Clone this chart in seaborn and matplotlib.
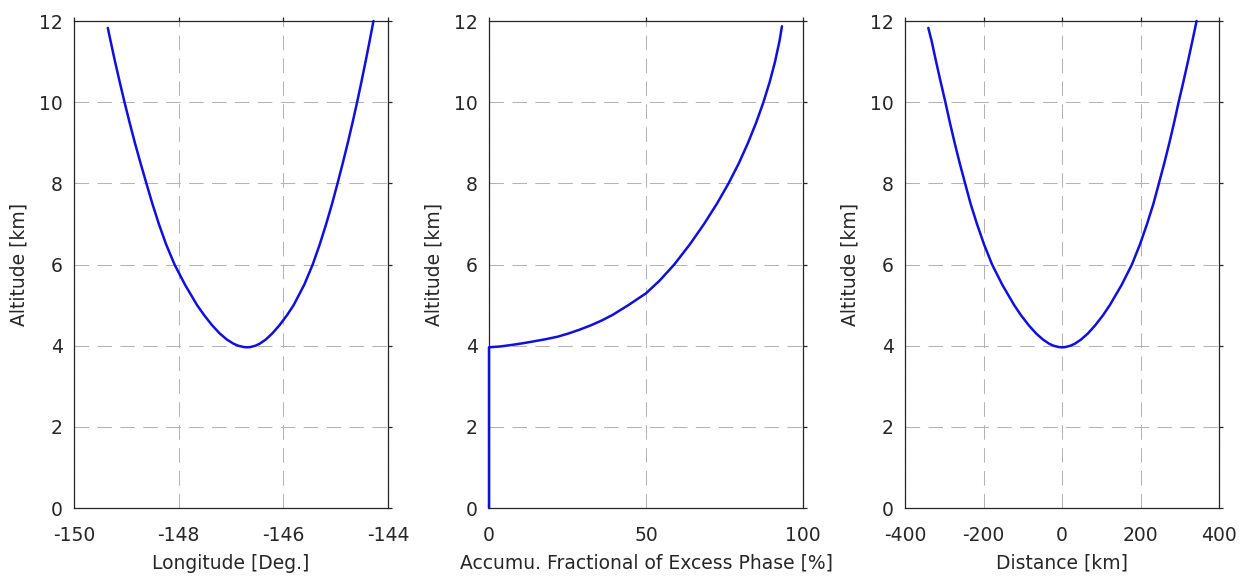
import matplotlib
matplotlib.use("Agg")
import matplotlib.pyplot as plt
import seaborn as sns
import pandas as pd

# Ray path: longitude vs altitude (west branch, tangent point, east branch)
lon_deg = [-149.354, -149.300, -149.216, -149.127, -149.035, -148.938, -148.837,
           -148.729, -148.617, -148.503, -148.379, -148.241, -148.079, -147.878,
           -147.649, -147.512, -147.359, -147.215, -147.078, -146.954, -146.866,
           -146.752, -146.690, -146.633,
           -146.530, -146.450, -146.337, -146.212, -146.076, -145.930, -145.803,
           -145.601, -145.439, -145.303, -145.181, -145.068, -144.964, -144.864,
           -144.768, -144.677, -144.590, -144.508, -144.429, -144.352, -144.278]
alt_lon = [11.83, 11.5, 11.0, 10.5, 10.0, 9.5, 9.0, 8.5, 8.0, 7.5, 7.0, 6.5, 6.0, 5.5,
           5.0, 4.75, 4.5, 4.3, 4.15, 4.05, 4.0,
           3.965, 3.96, 3.965,
           4.0, 4.05, 4.15, 4.3, 4.5, 4.75, 5.0, 5.5, 6.0, 6.5, 7.0, 7.5, 8.0, 8.5,
           9.0, 9.5, 10.0, 10.5, 11.0, 11.5, 12.0]

# Accumulated fraction of excess phase vs altitude
phase_pct = [0, 0, 3.5, 5.5, 7.4, 10.8, 13.8, 18.1, 21.8, 25.3, 28.7, 32.4, 35.9,
             39.4, 44.4, 50.0, 54.3, 59.0, 64.0, 68.5, 72.6, 76.3, 79.6, 82.5, 85.1,
             87.4, 89.4, 91.1, 92.5, 93.3]
alt_phase = [0, 3.96, 3.98, 4.0, 4.02, 4.06, 4.1, 4.16, 4.22, 4.3, 4.39, 4.5, 4.62,
             4.76, 5.0, 5.29, 5.6, 6.0, 6.5, 7.0, 7.5, 8.0, 8.5, 9.0, 9.5, 10.0, 10.5,
             11.0, 11.5, 11.87]

# Ray path: distance from tangent point vs altitude
dist_km = [-340.6, -332.0, -320.8, -309.2, -297.1, -285.7, -273.6, -260.7, -246.9,
           -233.0, -216.7, -198.8, -178.1, -152.1, -121.9, -104.5, -84.5, -65.9,
           -48.4, -33.0, -22.0,
           -7.8, 0.0, 7.8,
           22.0, 33.0, 48.4, 65.9, 84.5, 104.5, 121.9, 152.1, 178.1, 198.8, 216.7,
           233.0, 246.9, 260.7, 273.6, 285.7, 297.1, 309.2, 320.8, 332.0, 342.9]
alt_dist = [11.83, 11.5, 11.0, 10.5, 10.0, 9.5, 9.0, 8.5, 8.0, 7.5, 7.0, 6.5, 6.0, 5.5,
            5.0, 4.75, 4.5, 4.3, 4.15, 4.05, 4.0,
            3.965, 3.96, 3.965,
            4.0, 4.05, 4.15, 4.3, 4.5, 4.75, 5.0, 5.5, 6.0, 6.5, 7.0, 7.5, 8.0, 8.5,
            9.0, 9.5, 10.0, 10.5, 11.0, 11.5, 12.0]

x_labels = ["Longitude [Deg.]", "Accumu. Fractional of Excess Phase [%]", "Distance [km]"]
x_limits = [(-150, -144), (0, 100), (-400, 400)]
x_ticks = [[-150, -148, -146, -144], [0, 50, 100], [-400, -200, 0, 200, 400]]
y_ticks = [0, 2, 4, 6, 8, 10, 12]

sns.set_theme(style="white")
plt.rcParams["font.family"] = ["DejaVu Sans"]
plt.rcParams["axes.unicode_minus"] = False

text_color = "#262626"
line_color = "#1010dc"
grid_color = "#b4b4b4"

fig = plt.figure(figsize=(12.51, 5.78), dpi=100)
lefts = [74 / 1251, 489 / 1251, 905 / 1251]
width = 314 / 1251
bottom = 1 - 508 / 578
height = (508 - 21) / 578

frames = [
    pd.DataFrame({"x": lon_deg, "y": alt_lon}),
    pd.DataFrame({"x": phase_pct, "y": alt_phase}),
    pd.DataFrame({"x": dist_km, "y": alt_dist}),
]

for i, df in enumerate(frames):
    ax = fig.add_axes([lefts[i], bottom, width, height])
    sns.lineplot(data=df, x="x", y="y", sort=False, estimator=None, ax=ax,
                 color=line_color, linewidth=1.8, zorder=3, clip_on=False)
    ax.set_xlim(*x_limits[i])
    ax.set_ylim(0, 12)
    ax.set_xticks(x_ticks[i])
    ax.set_yticks(y_ticks)
    ax.grid(True, color=grid_color, linestyle=(0, (14, 8)), linewidth=0.75)
    ax.set_axisbelow(True)
    for s in ax.spines.values():
        s.set_visible(True)
        s.set_color(text_color)
        s.set_linewidth(0.9)
    ax.tick_params(axis="both", which="major", direction="out", length=3,
                   width=0.9, color=text_color, labelcolor=text_color,
                   labelsize=13.5, top=True, right=True,
                   labeltop=False, labelright=False)
    ax.tick_params(axis="x", pad=10)
    ax.tick_params(axis="y", pad=5)
    ax.set_xlabel(x_labels[i], fontsize=13.5, color=text_color)
    ax.set_ylabel("Altitude [km]", fontsize=13.5, color=text_color)
    ax.xaxis.set_label_coords(0.5, -0.094)
    ax.yaxis.set_label_coords(-0.144, 0.5)

fig.savefig("out.png", dpi=100, facecolor="white")
